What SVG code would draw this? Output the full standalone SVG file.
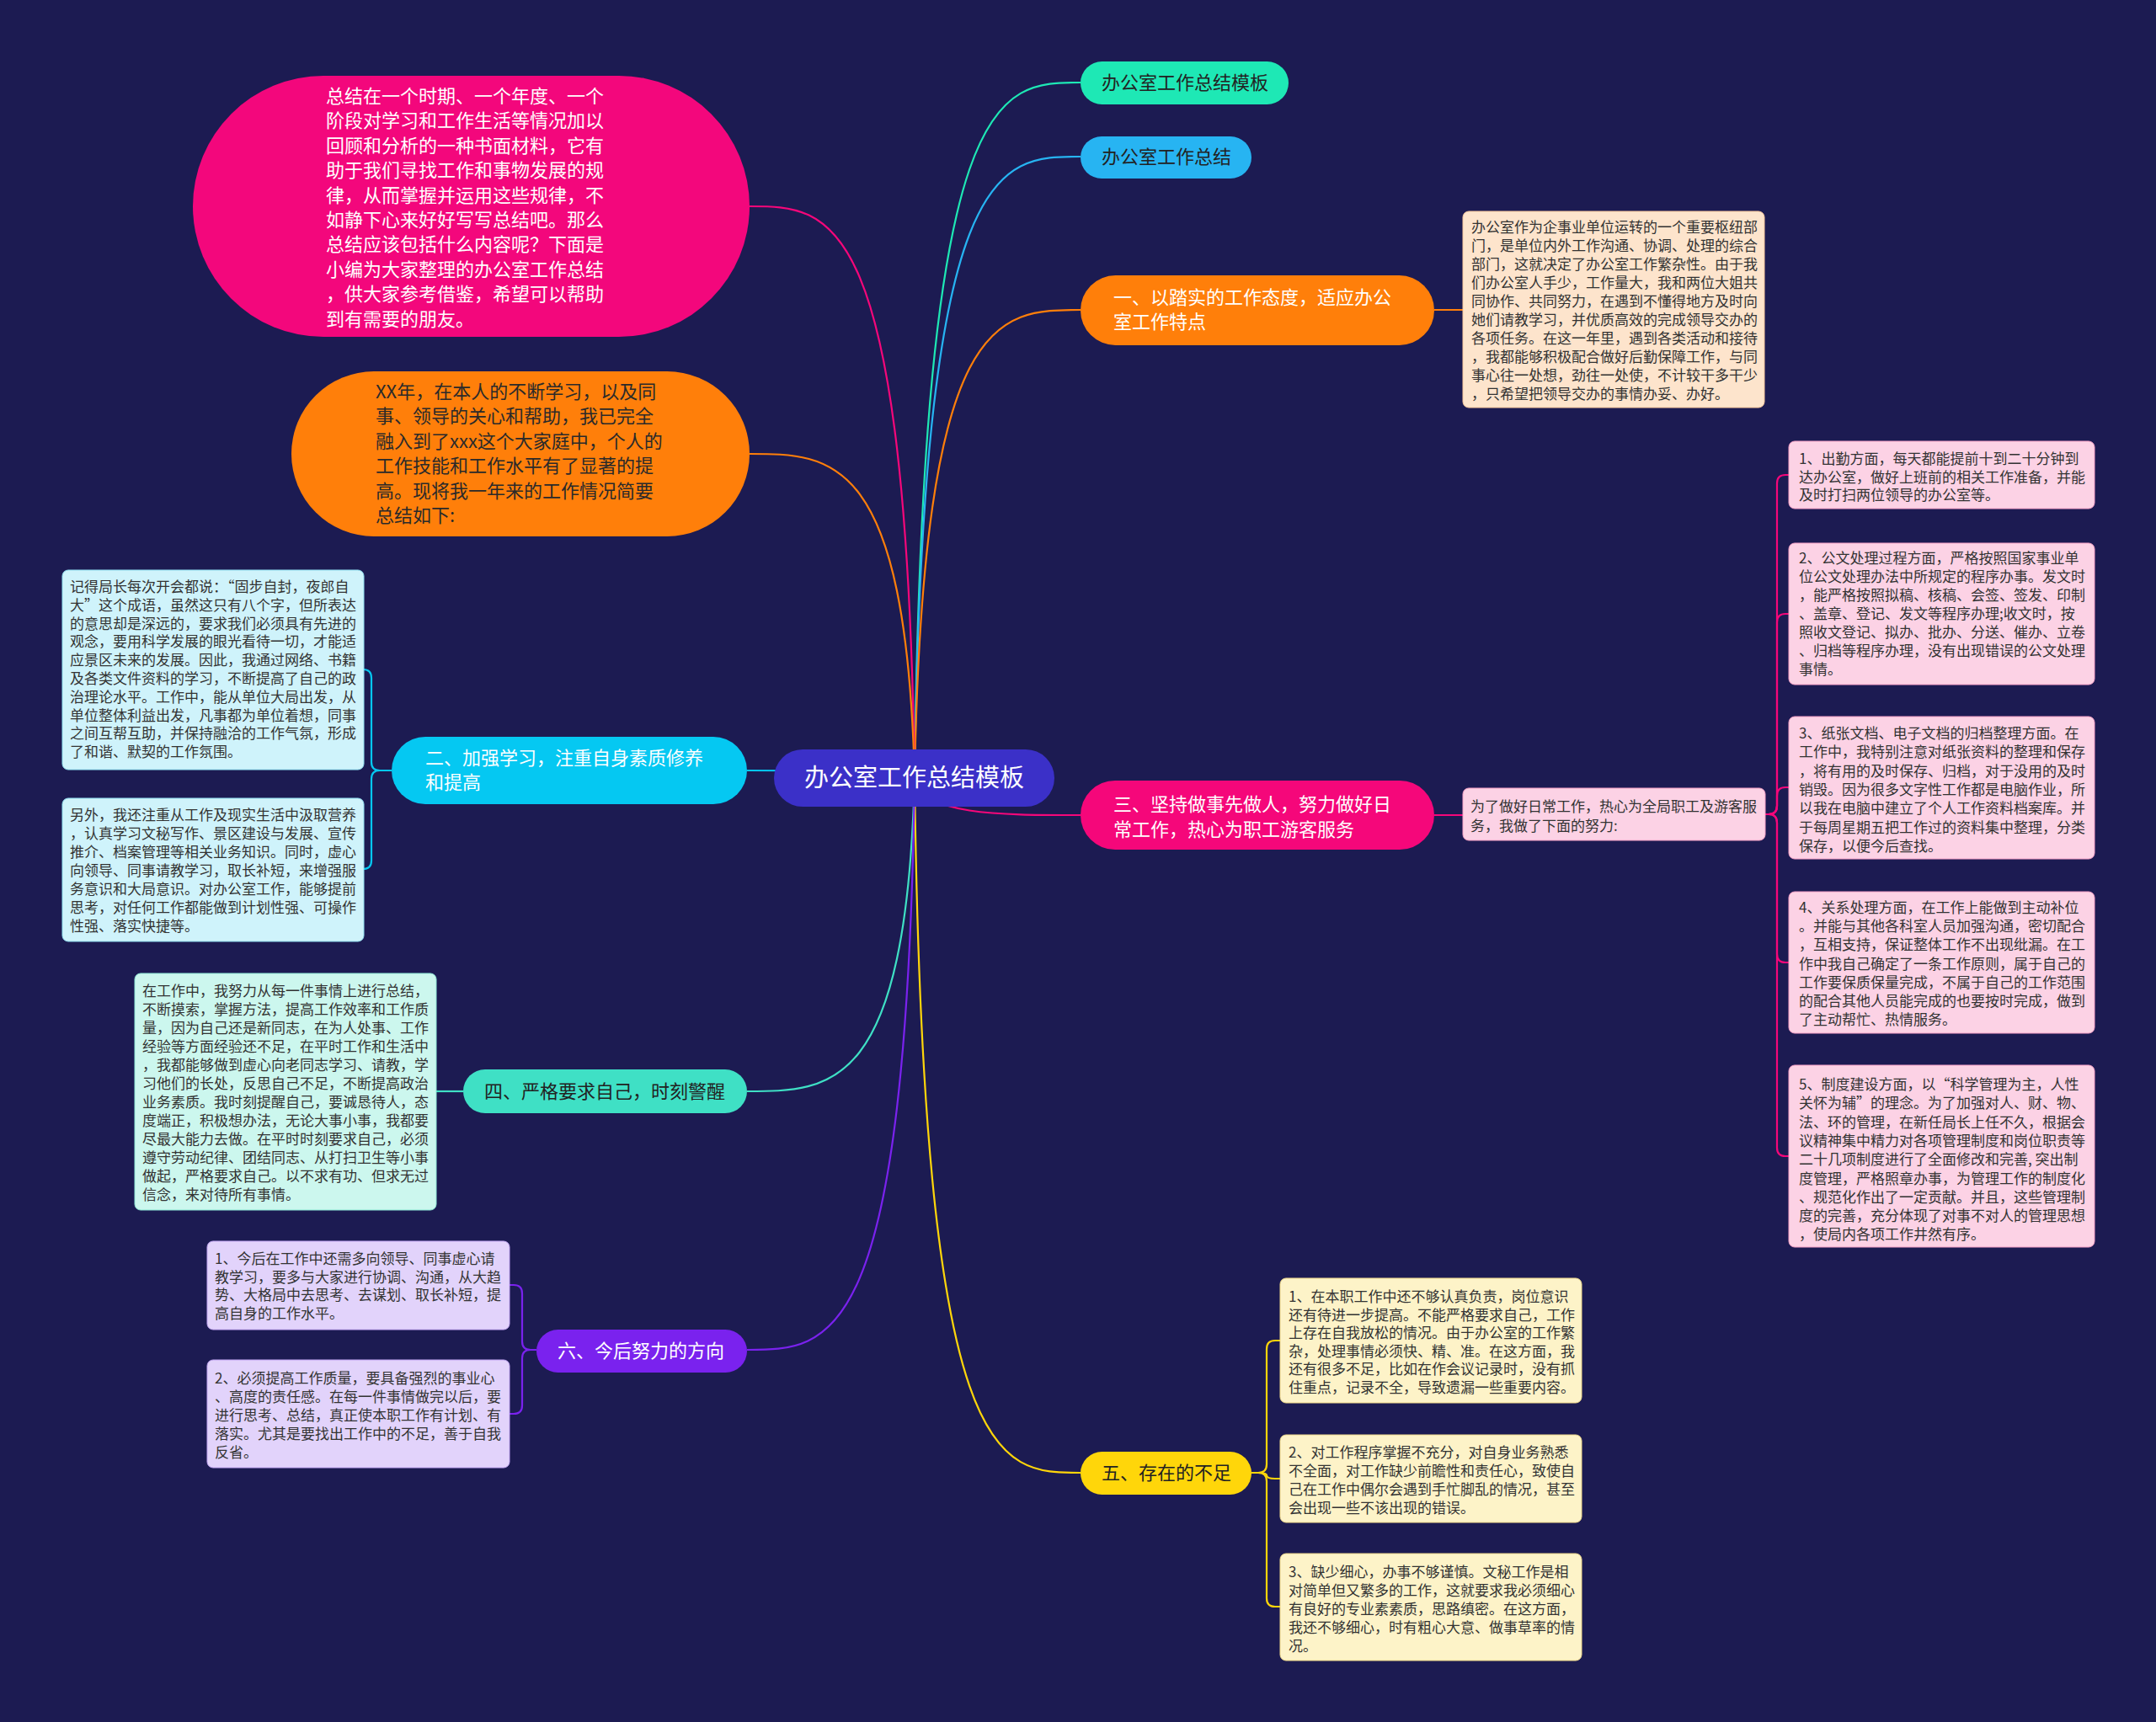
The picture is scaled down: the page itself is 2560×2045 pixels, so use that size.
<svg xmlns="http://www.w3.org/2000/svg" width="2560" height="2045" viewBox="0 0 2560 2045">
<style>
text{font-family:"Noto Sans CJK SC","Noto Sans",sans-serif;}
.n22{font-size:22px;}
.t17{font-size:17px;fill:#333333;}
.w{fill:#ffffff;}
.d{fill:#222222;}
.ln{fill:none;stroke-width:2.2;}
.box{stroke-width:1;}
</style>
<rect x="0" y="0" width="2560" height="2045" fill="#1c1b52"/>
<g id="connectors">
<path class="ln" stroke="#1ee8b5" d="M1086,924 C1096,98 1184,98 1283,98"/>
<path class="ln" stroke="#27b4f2" d="M1086,924 C1096,186 1184,186 1283,186"/>
<path class="ln" stroke="#ff7f0a" d="M1086,924 C1096,368 1184,368 1283,368"/>
<path class="ln" stroke="#f5077a" d="M1086,924 C1096,968 1184,968 1283,968"/>
<path class="ln" stroke="#ffd60a" d="M1086,924 C1096,1749 1184,1749 1283,1749"/>
<path class="ln" stroke="#f5077a" d="M1086,924 C1076,245 988,245 890,245"/>
<path class="ln" stroke="#ff7f0a" d="M1086,924 C1076,539 988,539 890,539"/>
<path class="ln" stroke="#05c8f2" d="M1086,924 C1076,915 988,915 887,915"/>
<path class="ln" stroke="#3fe0c5" d="M1086,924 C1076,1296 988,1296 887,1296"/>
<path class="ln" stroke="#7a22ee" d="M1086,924 C1076,1603 988,1603 887,1603"/>
<path class="ln" stroke="#05c8f2" d="M465,915 H451 Q441,915 441,905 V805 Q441,795 431,795"/>
<path class="ln" stroke="#05c8f2" d="M465,915 H451 Q441,915 441,925 V1022 Q441,1032 431,1032"/>
<path class="ln" stroke="#3fe0c5" d="M550,1296 H518"/>
<path class="ln" stroke="#7a22ee" d="M637,1603 H630 Q620,1603 620,1593 V1536 Q620,1526 610,1526 H605"/>
<path class="ln" stroke="#7a22ee" d="M637,1603 H630 Q620,1603 620,1613 V1669 Q620,1679 610,1679 H605"/>
<path class="ln" stroke="#ff7f0a" d="M1703,368 H1739"/>
<path class="ln" stroke="#f5077a" d="M1703,968 H1737"/>
<path class="ln" stroke="#f5077a" d="M2096,967 H2100 Q2110,967 2110,957 V574 Q2110,564 2120,564 H2124"/>
<path class="ln" stroke="#f5077a" d="M2096,967 H2100 Q2110,967 2110,957 V739 Q2110,729 2120,729 H2124"/>
<path class="ln" stroke="#f5077a" d="M2096,967 H2100 Q2110,967 2110,957 V945 Q2110,935 2120,935 H2124"/>
<path class="ln" stroke="#f5077a" d="M2096,967 H2100 Q2110,967 2110,977 V1133 Q2110,1143 2120,1143 H2124"/>
<path class="ln" stroke="#f5077a" d="M2096,967 H2100 Q2110,967 2110,977 V1363 Q2110,1373 2120,1373 H2124"/>
<path class="ln" stroke="#ffd60a" d="M1486,1749 H1494 Q1504,1749 1504,1739 V1602 Q1504,1592 1514,1592 H1520"/>
<path class="ln" stroke="#ffd60a" d="M1486,1749 H1494 Q1504,1749 1504,1752 Q1504,1756 1514,1756 H1520"/>
<path class="ln" stroke="#ffd60a" d="M1486,1749 H1494 Q1504,1749 1504,1759 V1898 Q1504,1908 1514,1908 H1520"/>
</g>
<g id="center">
<rect x="919" y="890" width="333" height="68" rx="34" fill="#3b30c8"/>
<text x="1085.5" y="934" font-size="29" text-anchor="middle" class="w">办公室工作总结模板</text>
</g>
<g id="n-top1">
<rect x="1283" y="73" width="247" height="51" rx="25.5" fill="#1ee8b5"/>
<text x="1308" y="106" class="n22 d">办公室工作总结模板</text>
</g>
<g id="n-top2">
<rect x="1283" y="162" width="203" height="50" rx="25" fill="#27b4f2"/>
<text x="1308" y="194" class="n22 d">办公室工作总结</text>
</g>
<g id="n-yi">
<rect x="1283" y="327" width="420" height="83" rx="41.5" fill="#ff7f0a"/>
<text class="n22 w"><tspan x="1322" y="361">一、以踏实的工作态度，适应办公</tspan><tspan x="1322" y="390">室工作特点</tspan></text>
</g>
<g id="b-yi">
<rect class="box" x="1737" y="251" width="358" height="233" rx="7" fill="#fde4cc" stroke="#f7c79a"/>
<text class="t17"><tspan x="1747" y="276">办公室作为企事业单位运转的一个重要枢纽部</tspan><tspan x="1747" dy="22">门，是单位内外工作沟通、协调、处理的综合</tspan><tspan x="1747" dy="22">部门，这就决定了办公室工作繁杂性。由于我</tspan><tspan x="1747" dy="22">们办公室人手少，工作量大，我和两位大姐共</tspan><tspan x="1747" dy="22">同协作、共同努力，在遇到不懂得地方及时向</tspan><tspan x="1747" dy="22">她们请教学习，并优质高效的完成领导交办的</tspan><tspan x="1747" dy="22">各项任务。在这一年里，遇到各类活动和接待</tspan><tspan x="1747" dy="22">，我都能够积极配合做好后勤保障工作，与同</tspan><tspan x="1747" dy="22">事心往一处想，劲往一处使，不计较干多干少</tspan><tspan x="1747" dy="22">，只希望把领导交办的事情办妥、办好。</tspan></text>
</g>
<g id="n-san">
<rect x="1283" y="927" width="420" height="82" rx="41" fill="#f5077a"/>
<text class="n22 w"><tspan x="1322" y="963">三、坚持做事先做人，努力做好日</tspan><tspan x="1322" y="993">常工作，热心为职工游客服务</tspan></text>
</g>
<g id="b-san0">
<rect class="box" x="1737" y="936" width="359" height="62" rx="7" fill="#fcd2e5" stroke="#f5a0c6"/>
<text class="t17"><tspan x="1746" y="964">为了做好日常工作，热心为全局职工及游客服</tspan><tspan x="1746" dy="23">务，我做了下面的努力:</tspan></text>
</g>
<g id="b-san1">
<rect class="box" x="2124" y="524" width="363" height="80" rx="7" fill="#fcd2e5" stroke="#f5a0c6"/>
<text class="t17"><tspan x="2136" y="551">1、出勤方面，每天都能提前十到二十分钟到</tspan><tspan x="2136" dy="21.5">达办公室，做好上班前的相关工作准备，并能</tspan><tspan x="2136" dy="21.5">及时打扫两位领导的办公室等。</tspan></text>
</g>
<g id="b-san2">
<rect class="box" x="2124" y="645" width="363" height="168" rx="7" fill="#fcd2e5" stroke="#f5a0c6"/>
<text class="t17"><tspan x="2136" y="669">2、公文处理过程方面，严格按照国家事业单</tspan><tspan x="2136" dy="22">位公文处理办法中所规定的程序办事。发文时</tspan><tspan x="2136" dy="22">，能严格按照拟稿、核稿、会签、签发、印制</tspan><tspan x="2136" dy="22">、盖章、登记、发文等程序办理;收文时，按</tspan><tspan x="2136" dy="22">照收文登记、拟办、批办、分送、催办、立卷</tspan><tspan x="2136" dy="22">、归档等程序办理，没有出现错误的公文处理</tspan><tspan x="2136" dy="22">事情。</tspan></text>
</g>
<g id="b-san3">
<rect class="box" x="2124" y="851" width="363" height="169" rx="7" fill="#fcd2e5" stroke="#f5a0c6"/>
<text class="t17"><tspan x="2136" y="877">3、纸张文档、电子文档的归档整理方面。在</tspan><tspan x="2136" dy="22.3">工作中，我特别注意对纸张资料的整理和保存</tspan><tspan x="2136" dy="22.3">，将有用的及时保存、归档，对于没用的及时</tspan><tspan x="2136" dy="22.3">销毁。因为很多文字性工作都是电脑作业，所</tspan><tspan x="2136" dy="22.3">以我在电脑中建立了个人工作资料档案库。并</tspan><tspan x="2136" dy="22.3">于每周星期五把工作过的资料集中整理，分类</tspan><tspan x="2136" dy="22.3">保存，以便今后查找。</tspan></text>
</g>
<g id="b-san4">
<rect class="box" x="2124" y="1059" width="363" height="168" rx="7" fill="#fcd2e5" stroke="#f5a0c6"/>
<text class="t17"><tspan x="2136" y="1084">4、关系处理方面，在工作上能做到主动补位</tspan><tspan x="2136" dy="22.2">。并能与其他各科室人员加强沟通，密切配合</tspan><tspan x="2136" dy="22.2">，互相支持，保证整体工作不出现纰漏。在工</tspan><tspan x="2136" dy="22.2">作中我自己确定了一条工作原则，属于自己的</tspan><tspan x="2136" dy="22.2">工作要保质保量完成，不属于自己的工作范围</tspan><tspan x="2136" dy="22.2">的配合其他人员能完成的也要按时完成，做到</tspan><tspan x="2136" dy="22.2">了主动帮忙、热情服务。</tspan></text>
</g>
<g id="b-san5">
<rect class="box" x="2124" y="1265" width="363" height="216" rx="7" fill="#fcd2e5" stroke="#f5a0c6"/>
<text class="t17"><tspan x="2136" y="1294">5、制度建设方面，以“科学管理为主，人性</tspan><tspan x="2136" dy="22.3">关怀为辅”的理念。为了加强对人、财、物、</tspan><tspan x="2136" dy="22.3">法、环的管理，在新任局长上任不久，根据会</tspan><tspan x="2136" dy="22.3">议精神集中精力对各项管理制度和岗位职责等</tspan><tspan x="2136" dy="22.3">二十几项制度进行了全面修改和完善, 突出制</tspan><tspan x="2136" dy="22.3">度管理，严格照章办事，为管理工作的制度化</tspan><tspan x="2136" dy="22.3">、规范化作出了一定贡献。并且，这些管理制</tspan><tspan x="2136" dy="22.3">度的完善，充分体现了对事不对人的管理思想</tspan><tspan x="2136" dy="22.3">，使局内各项工作井然有序。</tspan></text>
</g>
<g id="n-wu">
<rect x="1283" y="1724" width="203" height="51" rx="25.5" fill="#ffd60a"/>
<text x="1308" y="1757" class="n22 d">五、存在的不足</text>
</g>
<g id="b-wu1">
<rect class="box" x="1520" y="1518" width="358" height="148" rx="7" fill="#fdf3c8" stroke="#efd98a"/>
<text class="t17"><tspan x="1530" y="1546">1、在本职工作中还不够认真负责，岗位意识</tspan><tspan x="1530" dy="21.6">还有待进一步提高。不能严格要求自己，工作</tspan><tspan x="1530" dy="21.6">上存在自我放松的情况。由于办公室的工作繁</tspan><tspan x="1530" dy="21.6">杂，处理事情必须快、精、准。在这方面，我</tspan><tspan x="1530" dy="21.6">还有很多不足，比如在作会议记录时，没有抓</tspan><tspan x="1530" dy="21.6">住重点，记录不全，导致遗漏一些重要内容。</tspan></text>
</g>
<g id="b-wu2">
<rect class="box" x="1520" y="1704" width="358" height="104" rx="7" fill="#fdf3c8" stroke="#efd98a"/>
<text class="t17"><tspan x="1530" y="1731">2、对工作程序掌握不充分，对自身业务熟悉</tspan><tspan x="1530" dy="22">不全面，对工作缺少前瞻性和责任心，致使自</tspan><tspan x="1530" dy="22">己在工作中偶尔会遇到手忙脚乱的情况，甚至</tspan><tspan x="1530" dy="22">会出现一些不该出现的错误。</tspan></text>
</g>
<g id="b-wu3">
<rect class="box" x="1520" y="1845" width="358" height="127" rx="7" fill="#fdf3c8" stroke="#efd98a"/>
<text class="t17"><tspan x="1530" y="1873">3、缺少细心，办事不够谨慎。文秘工作是相</tspan><tspan x="1530" dy="22">对简单但又繁多的工作，这就要求我必须细心</tspan><tspan x="1530" dy="22">有良好的专业素素质，思路缜密。在这方面，</tspan><tspan x="1530" dy="22">我还不够细心，时有粗心大意、做事草率的情</tspan><tspan x="1530" dy="22">况。</tspan></text>
</g>
<g id="n-intro">
<rect x="229" y="90" width="661" height="310" rx="155" fill="#f3077c"/>
<text class="n22 w"><tspan x="387" y="122">总结在一个时期、一个年度、一个</tspan><tspan x="387" dy="29.4">阶段对学习和工作生活等情况加以</tspan><tspan x="387" dy="29.4">回顾和分析的一种书面材料，它有</tspan><tspan x="387" dy="29.4">助于我们寻找工作和事物发展的规</tspan><tspan x="387" dy="29.4">律，从而掌握并运用这些规律，不</tspan><tspan x="387" dy="29.4">如静下心来好好写写总结吧。那么</tspan><tspan x="387" dy="29.4">总结应该包括什么内容呢？下面是</tspan><tspan x="387" dy="29.4">小编为大家整理的办公室工作总结</tspan><tspan x="387" dy="29.4">，供大家参考借鉴，希望可以帮助</tspan><tspan x="387" dy="29.4">到有需要的朋友。</tspan></text>
</g>
<g id="n-xx">
<rect x="346" y="441" width="544" height="196" rx="98" fill="#ff7f0a"/>
<text class="n22" fill="#2a2a2a"><tspan x="446" y="473">XX年，在本人的不断学习，以及同</tspan><tspan x="446" dy="29.4">事、领导的关心和帮助，我已完全</tspan><tspan x="446" dy="29.4">融入到了xxx这个大家庭中，个人的</tspan><tspan x="446" dy="29.4">工作技能和工作水平有了显著的提</tspan><tspan x="446" dy="29.4">高。现将我一年来的工作情况简要</tspan><tspan x="446" dy="29.4">总结如下:</tspan></text>
</g>
<g id="n-er">
<rect x="465" y="875" width="422" height="80" rx="40" fill="#05c8f2"/>
<text class="n22 w"><tspan x="505" y="908">二、加强学习，注重自身素质修养</tspan><tspan x="505" y="937">和提高</tspan></text>
</g>
<g id="b-er1">
<rect class="box" x="74" y="677" width="358" height="237" rx="7" fill="#cff3fb" stroke="#8fdff0"/>
<text class="t17"><tspan x="83" y="703">记得局长每次开会都说：“固步自封，夜郎自</tspan><tspan x="83" dy="21.8">大”这个成语，虽然这只有八个字，但所表达</tspan><tspan x="83" dy="21.8">的意思却是深远的，要求我们必须具有先进的</tspan><tspan x="83" dy="21.8">观念，要用科学发展的眼光看待一切，才能适</tspan><tspan x="83" dy="21.8">应景区未来的发展。因此，我通过网络、书籍</tspan><tspan x="83" dy="21.8">及各类文件资料的学习，不断提高了自己的政</tspan><tspan x="83" dy="21.8">治理论水平。工作中，能从单位大局出发，从</tspan><tspan x="83" dy="21.8">单位整体利益出发，凡事都为单位着想，同事</tspan><tspan x="83" dy="21.8">之间互帮互助，并保持融洽的工作气氛，形成</tspan><tspan x="83" dy="21.8">了和谐、默契的工作氛围。</tspan></text>
</g>
<g id="b-er2">
<rect class="box" x="74" y="948" width="358" height="170" rx="7" fill="#cff3fb" stroke="#8fdff0"/>
<text class="t17"><tspan x="83" y="974">另外，我还注重从工作及现实生活中汲取营养</tspan><tspan x="83" dy="22">，认真学习文秘写作、景区建设与发展、宣传</tspan><tspan x="83" dy="22">推介、档案管理等相关业务知识。同时，虚心</tspan><tspan x="83" dy="22">向领导、同事请教学习，取长补短，来增强服</tspan><tspan x="83" dy="22">务意识和大局意识。对办公室工作，能够提前</tspan><tspan x="83" dy="22">思考，对任何工作都能做到计划性强、可操作</tspan><tspan x="83" dy="22">性强、落实快捷等。</tspan></text>
</g>
<g id="n-si">
<rect x="550" y="1270" width="337" height="52" rx="26" fill="#3fe0c5"/>
<text x="575" y="1304" class="n22 d">四、严格要求自己，时刻警醒</text>
</g>
<g id="b-si">
<rect class="box" x="160" y="1156" width="358" height="281" rx="7" fill="#ccf7ee" stroke="#8de8d5"/>
<text class="t17"><tspan x="169" y="1183">在工作中，我努力从每一件事情上进行总结，</tspan><tspan x="169" dy="22">不断摸索，掌握方法，提高工作效率和工作质</tspan><tspan x="169" dy="22">量，因为自己还是新同志，在为人处事、工作</tspan><tspan x="169" dy="22">经验等方面经验还不足，在平时工作和生活中</tspan><tspan x="169" dy="22">，我都能够做到虚心向老同志学习、请教，学</tspan><tspan x="169" dy="22">习他们的长处，反思自己不足，不断提高政治</tspan><tspan x="169" dy="22">业务素质。我时刻提醒自己，要诚恳待人，态</tspan><tspan x="169" dy="22">度端正，积极想办法，无论大事小事，我都要</tspan><tspan x="169" dy="22">尽最大能力去做。在平时时刻要求自己，必须</tspan><tspan x="169" dy="22">遵守劳动纪律、团结同志、从打扫卫生等小事</tspan><tspan x="169" dy="22">做起，严格要求自己。以不求有功、但求无过</tspan><tspan x="169" dy="22">信念，来对待所有事情。</tspan></text>
</g>
<g id="n-liu">
<rect x="637" y="1579" width="250" height="51" rx="25.5" fill="#7a22ee"/>
<text x="662" y="1612" class="n22 w">六、今后努力的方向</text>
</g>
<g id="b-liu1">
<rect class="box" x="246" y="1474" width="359" height="105" rx="7" fill="#e2d3fb" stroke="#c2a6f2"/>
<text class="t17"><tspan x="255" y="1501">1、今后在工作中还需多向领导、同事虚心请</tspan><tspan x="255" dy="21.7">教学习，要多与大家进行协调、沟通，从大趋</tspan><tspan x="255" dy="21.7">势、大格局中去思考、去谋划、取长补短，提</tspan><tspan x="255" dy="21.7">高自身的工作水平。</tspan></text>
</g>
<g id="b-liu2">
<rect class="box" x="246" y="1615" width="359" height="128" rx="7" fill="#e2d3fb" stroke="#c2a6f2"/>
<text class="t17"><tspan x="255" y="1643">2、必须提高工作质量，要具备强烈的事业心</tspan><tspan x="255" dy="22">、高度的责任感。在每一件事情做完以后，要</tspan><tspan x="255" dy="22">进行思考、总结，真正使本职工作有计划、有</tspan><tspan x="255" dy="22">落实。尤其是要找出工作中的不足，善于自我</tspan><tspan x="255" dy="22">反省。</tspan></text>
</g>
</svg>
